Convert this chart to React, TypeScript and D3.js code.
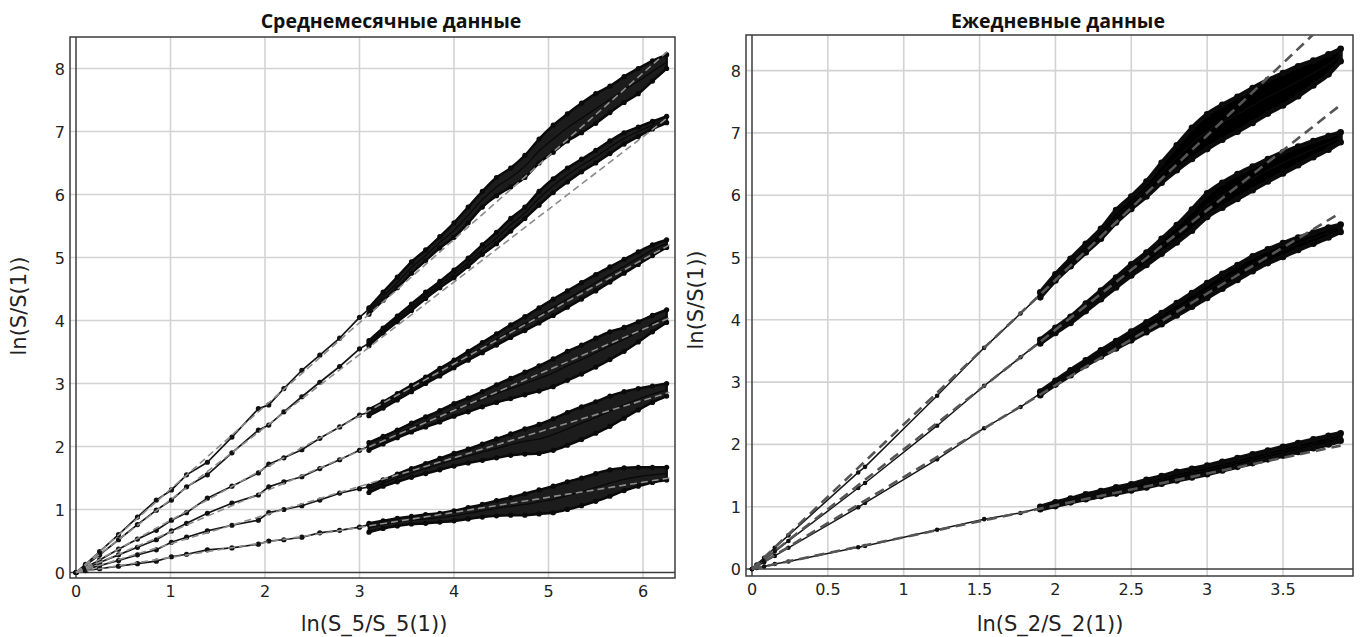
import React from "react";
import * as d3 from "d3";

// ---------- axis ticks ----------
const monthlyTicksX = [0, 1, 2, 3, 4, 5, 6];
const monthlyTicksY = [0, 1, 2, 3, 4, 5, 6, 7, 8];
const dailyTicksX = [0, 0.5, 1, 1.5, 2, 2.5, 3, 3.5];
const dailyTicksY = [0, 1, 2, 3, 4, 5, 6, 7, 8];

// ---------- monthly data (left panel) ----------
// single trajectory from the origin
const monthlyEarlyX = [0, 0.1, 0.25, 0.45, 0.65, 0.85, 1.01, 1.17, 1.39, 1.65, 1.93, 2.04, 2.2, 2.39, 2.58, 2.79, 3.0, 3.1];
const monthlyEarly1 = [0, 0.13, 0.33, 0.6, 0.88, 1.15, 1.31, 1.55, 1.75, 2.15, 2.6, 2.66, 2.92, 3.21, 3.45, 3.72, 4.05, 4.18];
const monthlyEarly2 = [0, 0.11, 0.28, 0.52, 0.76, 0.99, 1.15, 1.36, 1.55, 1.9, 2.26, 2.34, 2.55, 2.79, 3.02, 3.27, 3.55, 3.64];
const monthlyEarly3 = [0, 0.08, 0.2, 0.37, 0.53, 0.67, 0.83, 0.95, 1.18, 1.37, 1.58, 1.72, 1.82, 1.95, 2.13, 2.31, 2.5, 2.54];
const monthlyEarly4 = [0, 0.06, 0.16, 0.28, 0.4, 0.52, 0.66, 0.78, 0.94, 1.1, 1.23, 1.36, 1.44, 1.52, 1.65, 1.79, 1.94, 2.0];
const monthlyEarly5 = [0, 0.05, 0.11, 0.19, 0.28, 0.36, 0.48, 0.56, 0.66, 0.75, 0.83, 0.95, 1.0, 1.06, 1.15, 1.26, 1.33, 1.36];
const monthlyEarly6 = [0, 0.03, 0.06, 0.1, 0.14, 0.18, 0.25, 0.29, 0.36, 0.39, 0.45, 0.5, 0.52, 0.56, 0.63, 0.67, 0.72, 0.76];

// dense overlapping trajectories: upper edge, middle strand, lower edge
const monthlyLateX = [3.1, 3.25, 3.4, 3.55, 3.7, 3.85, 4.0, 4.15, 4.3, 4.45, 4.6, 4.75, 4.9, 5.05, 5.2, 5.35, 5.5, 5.65, 5.8, 5.95, 6.1, 6.25];
const monthlyUpper1 = [4.2, 4.45, 4.69, 4.93, 5.12, 5.33, 5.55, 5.8, 6.05, 6.27, 6.42, 6.62, 6.88, 7.1, 7.28, 7.45, 7.6, 7.72, 7.87, 8.0, 8.12, 8.22];
const monthlyMid1 = [4.15, 4.38, 4.6, 4.84, 5.03, 5.24, 5.43, 5.67, 5.92, 6.12, 6.27, 6.45, 6.69, 6.88, 7.06, 7.21, 7.36, 7.51, 7.66, 7.8, 7.95, 8.1];
const monthlyLower1 = [4.1, 4.32, 4.52, 4.75, 4.95, 5.15, 5.32, 5.55, 5.8, 5.98, 6.12, 6.27, 6.5, 6.67, 6.85, 6.98, 7.13, 7.3, 7.46, 7.6, 7.8, 8.0];
const monthlyUpper2 = [3.68, 3.88, 4.07, 4.26, 4.45, 4.62, 4.8, 4.99, 5.2, 5.4, 5.62, 5.8, 6.05, 6.25, 6.42, 6.56, 6.7, 6.85, 6.98, 7.07, 7.16, 7.24];
const monthlyMid2 = [3.64, 3.84, 4.02, 4.21, 4.4, 4.57, 4.74, 4.92, 5.12, 5.31, 5.52, 5.71, 5.94, 6.14, 6.31, 6.46, 6.6, 6.75, 6.89, 7.0, 7.1, 7.19];
const monthlyLower2 = [3.6, 3.8, 3.98, 4.16, 4.35, 4.52, 4.68, 4.86, 5.05, 5.22, 5.42, 5.62, 5.83, 6.03, 6.2, 6.36, 6.5, 6.65, 6.8, 6.92, 7.04, 7.14];
const monthlyUpper3 = [2.59, 2.71, 2.84, 2.97, 3.1, 3.24, 3.37, 3.51, 3.65, 3.79, 3.93, 4.06, 4.2, 4.34, 4.47, 4.6, 4.73, 4.85, 4.97, 5.09, 5.2, 5.28];
const monthlyMid3 = [2.54, 2.66, 2.79, 2.92, 3.05, 3.18, 3.31, 3.44, 3.57, 3.7, 3.83, 3.95, 4.08, 4.21, 4.34, 4.47, 4.6, 4.73, 4.86, 4.99, 5.12, 5.22];
const monthlyLower3 = [2.49, 2.61, 2.74, 2.87, 3.0, 3.12, 3.25, 3.37, 3.49, 3.61, 3.73, 3.84, 3.96, 4.08, 4.21, 4.34, 4.47, 4.61, 4.75, 4.89, 5.03, 5.16];
const monthlyUpper4 = [2.06, 2.16, 2.26, 2.37, 2.47, 2.57, 2.68, 2.77, 2.87, 2.98, 3.08, 3.18, 3.28, 3.39, 3.51, 3.61, 3.72, 3.82, 3.89, 3.98, 4.08, 4.17];
const monthlyMid4 = [2.0, 2.1, 2.2, 2.3, 2.39, 2.48, 2.58, 2.66, 2.75, 2.84, 2.92, 3.0, 3.08, 3.17, 3.28, 3.38, 3.49, 3.6, 3.7, 3.82, 3.95, 4.07];
const monthlyLower4 = [1.94, 2.04, 2.14, 2.23, 2.31, 2.39, 2.48, 2.55, 2.63, 2.7, 2.76, 2.82, 2.88, 2.95, 3.05, 3.15, 3.26, 3.38, 3.51, 3.66, 3.82, 3.97];
const monthlyUpper5 = [1.37, 1.47, 1.56, 1.65, 1.73, 1.81, 1.89, 1.96, 2.04, 2.12, 2.2, 2.28, 2.35, 2.44, 2.54, 2.63, 2.71, 2.8, 2.87, 2.92, 2.96, 3.0];
const monthlyMid5 = [1.32, 1.42, 1.5, 1.58, 1.65, 1.72, 1.79, 1.85, 1.91, 1.97, 2.03, 2.08, 2.12, 2.19, 2.28, 2.37, 2.46, 2.56, 2.66, 2.75, 2.83, 2.9];
const monthlyLower5 = [1.27, 1.37, 1.44, 1.51, 1.57, 1.63, 1.69, 1.74, 1.78, 1.82, 1.86, 1.88, 1.89, 1.94, 2.02, 2.11, 2.21, 2.32, 2.45, 2.58, 2.7, 2.8];
const monthlyUpper6 = [0.78, 0.82, 0.86, 0.89, 0.92, 0.94, 0.98, 1.03, 1.08, 1.14, 1.19, 1.25, 1.31, 1.37, 1.44, 1.5, 1.57, 1.63, 1.66, 1.67, 1.67, 1.67];
const monthlyMid6 = [0.71, 0.76, 0.8, 0.83, 0.85, 0.87, 0.9, 0.94, 0.98, 1.02, 1.05, 1.08, 1.12, 1.16, 1.22, 1.28, 1.35, 1.42, 1.48, 1.52, 1.55, 1.57];
const monthlyLower6 = [0.64, 0.7, 0.74, 0.77, 0.78, 0.8, 0.82, 0.85, 0.88, 0.9, 0.91, 0.91, 0.93, 0.95, 1.0, 1.06, 1.13, 1.21, 1.3, 1.37, 1.43, 1.47];

// regression lines through the origin: value reached at x = monthlyFitX
const monthlyFitX = 6.28;
const monthlyFitEnd = [8.3, 7.24, 5.2, 4.04, 2.86, 1.5];

// ---------- daily data (right panel) ----------
const dailyEarlyX = [0, 0.03, 0.08, 0.15, 0.24, 0.7, 0.745, 1.22, 1.53, 1.77, 1.9];
const dailyEarly1 = [0, 0.07, 0.18, 0.34, 0.54, 1.55, 1.64, 2.78, 3.55, 4.1, 4.4];
const dailyEarly2 = [0, 0.06, 0.15, 0.28, 0.45, 1.3, 1.38, 2.3, 2.94, 3.4, 3.65];
const dailyEarly3 = [0, 0.04, 0.11, 0.21, 0.34, 0.99, 1.06, 1.76, 2.26, 2.6, 2.82];
const dailyEarly4 = [0, 0.015, 0.04, 0.08, 0.12, 0.35, 0.37, 0.63, 0.8, 0.9, 0.98];

const dailyLateX = [1.9, 2.0, 2.1, 2.2, 2.3, 2.4, 2.5, 2.6, 2.7, 2.8, 2.9, 3.0, 3.1, 3.2, 3.3, 3.4, 3.5, 3.6, 3.7, 3.8, 3.88];
const dailyUpper1 = [4.44, 4.73, 4.98, 5.22, 5.46, 5.76, 5.98, 6.22, 6.52, 6.8, 7.08, 7.3, 7.45, 7.58, 7.72, 7.85, 7.96, 8.07, 8.16, 8.26, 8.35];
const dailyMid1 = [4.4, 4.68, 4.92, 5.15, 5.38, 5.66, 5.88, 6.1, 6.36, 6.6, 6.83, 7.02, 7.17, 7.3, 7.44, 7.58, 7.7, 7.83, 7.96, 8.1, 8.25];
const dailyLower1 = [4.36, 4.63, 4.86, 5.08, 5.3, 5.56, 5.78, 5.98, 6.2, 6.4, 6.58, 6.74, 6.89, 7.02, 7.16, 7.31, 7.44, 7.59, 7.76, 7.94, 8.15];
const dailyUpper2 = [3.68, 3.87, 4.05, 4.26, 4.47, 4.68, 4.89, 5.08, 5.3, 5.52, 5.77, 6.03, 6.2, 6.34, 6.46, 6.58, 6.69, 6.78, 6.87, 6.95, 7.01];
const dailyMid2 = [3.65, 3.83, 4.0, 4.2, 4.4, 4.6, 4.8, 4.98, 5.18, 5.38, 5.6, 5.84, 6.0, 6.14, 6.27, 6.4, 6.52, 6.63, 6.74, 6.84, 6.93];
const dailyLower2 = [3.62, 3.79, 3.95, 4.14, 4.33, 4.52, 4.71, 4.88, 5.06, 5.24, 5.43, 5.65, 5.8, 5.94, 6.08, 6.22, 6.35, 6.48, 6.61, 6.73, 6.85];
const dailyUpper3 = [2.85, 3.02, 3.19, 3.35, 3.51, 3.66, 3.81, 3.96, 4.11, 4.27, 4.43, 4.59, 4.74, 4.88, 5.02, 5.13, 5.23, 5.32, 5.4, 5.48, 5.53];
const dailyMid3 = [2.82, 2.99, 3.15, 3.31, 3.46, 3.6, 3.74, 3.88, 4.02, 4.17, 4.32, 4.47, 4.62, 4.76, 4.9, 5.02, 5.12, 5.22, 5.31, 5.4, 5.47];
const dailyLower3 = [2.79, 2.96, 3.11, 3.27, 3.41, 3.54, 3.67, 3.8, 3.93, 4.07, 4.21, 4.35, 4.5, 4.64, 4.78, 4.91, 5.01, 5.12, 5.22, 5.32, 5.41];
const dailyUpper4 = [1.0, 1.07, 1.13, 1.2, 1.25, 1.31, 1.36, 1.43, 1.49, 1.56, 1.61, 1.66, 1.72, 1.78, 1.84, 1.9, 1.96, 2.02, 2.08, 2.14, 2.18];
const dailyMid4 = [0.98, 1.04, 1.1, 1.16, 1.21, 1.26, 1.31, 1.37, 1.43, 1.49, 1.54, 1.59, 1.65, 1.71, 1.77, 1.83, 1.89, 1.95, 2.01, 2.07, 2.12];
const dailyLower4 = [0.96, 1.01, 1.07, 1.12, 1.17, 1.21, 1.26, 1.31, 1.37, 1.42, 1.47, 1.52, 1.58, 1.64, 1.7, 1.76, 1.82, 1.88, 1.94, 2.0, 2.06];

const dailyFitX = 3.88;
const dailyFitEnd = [9.0, 7.45, 5.72, 1.98];

const FONT = "'DejaVu Sans', Verdana, sans-serif";

type Bundle = {
  early: number[];
  upper: number[];
  mid: number[];
  lower: number[];
};

type PanelProps = {
  id: string;
  title: string;
  titleX: number;
  xLabel: string;
  xLabelX: number;
  yLabelX: number;
  yLabelY: number;
  frame: { x1: number; x2: number; y1: number; y2: number };
  xScale: d3.ScaleLinear<number, number>;
  yScale: d3.ScaleLinear<number, number>;
  xTicks: number[];
  yTicks: number[];
  earlyX: number[];
  lateX: number[];
  bundles: Bundle[];
  fitX: number;
  fitEnd: number[];
  bandFill: string;
  bandStroke: number;
  earlyWidth: number;
  markerR: number;
  bandR: number;
  fitStroke: string;
  fitWidth: number;
  fitDash: string;
};

function Panel(p: PanelProps) {
  const { frame, xScale: xs, yScale: ys } = p;

  const line = d3
    .line<[number, number]>()
    .x((d) => xs(d[0]))
    .y((d) => ys(d[1]));

  const smooth = d3
    .line<[number, number]>()
    .x((d) => xs(d[0]))
    .y((d) => ys(d[1]))
    .curve(d3.curveCatmullRom.alpha(0.5));

  const area = d3
    .area<number>()
    .x((_, i) => xs(p.lateX[i]))
    .curve(d3.curveCatmullRom.alpha(0.5));

  return (
    <g>
      <defs>
        <clipPath id={`clip-${p.id}`}>
          <rect x={frame.x1} y={frame.y1} width={frame.x2 - frame.x1} height={frame.y2 - frame.y1} />
        </clipPath>
      </defs>
      {/* grid */}
      {p.xTicks.filter((t) => t !== 0).map((t) => (
        <line key={`gx${t}`} x1={xs(t)} x2={xs(t)} y1={frame.y1} y2={frame.y2} stroke="#d3d3d3" strokeWidth={1.6} />
      ))}
      {p.yTicks.filter((t) => t !== 0).map((t) => (
        <line key={`gy${t}`} x1={frame.x1} x2={frame.x2} y1={ys(t)} y2={ys(t)} stroke="#d3d3d3" strokeWidth={1.6} />
      ))}
      {/* frame and zero axes */}
      <rect x={frame.x1} y={frame.y1} width={frame.x2 - frame.x1} height={frame.y2 - frame.y1} fill="none" stroke="#3c3c3c" strokeWidth={1.5} />
      <line x1={xs(0)} x2={xs(0)} y1={frame.y1} y2={frame.y2} stroke="#3c3c3c" strokeWidth={1.5} />
      <line x1={frame.x1} x2={frame.x2} y1={ys(0)} y2={ys(0)} stroke="#3c3c3c" strokeWidth={1.5} />

      {/* data */}
      <g clipPath={`url(#clip-${p.id})`}>
        {p.bundles.map((b, bi) => {
          const earlyPts = p.earlyX.map((x, i) => [x, b.early[i]] as [number, number]);
          const up = p.lateX.map((x, i) => [x, b.upper[i]] as [number, number]);
          const md = p.lateX.map((x, i) => [x, b.mid[i]] as [number, number]);
          const lo = p.lateX.map((x, i) => [x, b.lower[i]] as [number, number]);
          const bandPath = area.y0((_, i) => ys(b.lower[i])).y1((_, i) => ys(b.upper[i]))(b.upper) || "";
          return (
            <g key={`b${bi}`}>
              <path d={line(earlyPts) || ""} fill="none" stroke="#161616" strokeWidth={p.earlyWidth} />
              {earlyPts.map((d, i) => (
                <circle key={`e${i}`} cx={xs(d[0])} cy={ys(d[1])} r={p.markerR} fill="#111" />
              ))}
              <path d={bandPath} fill={p.bandFill} stroke="#0e0e0e" strokeWidth={p.bandStroke} strokeLinejoin="round" />
              {[up, md, lo].map((s, si) => (
                <path key={`s${si}`} d={smooth(s) || ""} fill="none" stroke="#0a0a0a" strokeWidth={1.3} />
              ))}
              {[up, lo].map((s, si) =>
                s.map((d, i) => (
                  <circle key={`m${si}-${i}`} cx={xs(d[0])} cy={ys(d[1])} r={p.bandR} fill="#0a0a0a" />
                ))
              )}
            </g>
          );
        })}
        {p.fitEnd.map((v, i) => (
          <path
            key={`f${i}`}
            d={line([[0, 0], [p.fitX, v]]) || ""}
            fill="none"
            stroke={p.fitStroke}
            strokeWidth={p.fitWidth}
            strokeDasharray={p.fitDash}
          />
        ))}
      </g>

      {/* tick labels */}
      {p.xTicks.map((t) => (
        <text key={`tx${t}`} x={xs(t)} y={frame.y2 + 19} textAnchor="middle" fontFamily={FONT} fontSize={16} fill="#222">
          {String(t)}
        </text>
      ))}
      {p.yTicks.map((t) => (
        <text key={`ty${t}`} x={frame.x1 - 5} y={ys(t) + 6} textAnchor="end" fontFamily={FONT} fontSize={16} fill="#222">
          {String(t)}
        </text>
      ))}

      {/* titles */}
      <text x={p.titleX} y={28} textAnchor="middle" fontFamily="'Open Sans', 'DejaVu Sans', sans-serif" fontWeight={700} fontSize={19.5} fill="#111">
        {p.title}
      </text>
      <text x={p.xLabelX} y={631} textAnchor="middle" fontFamily={FONT} fontSize={21} fill="#222">
        {p.xLabel}
      </text>
      <text
        transform={`translate(${p.yLabelX},${p.yLabelY}) rotate(-90)`}
        textAnchor="middle"
        fontFamily={FONT}
        fontSize={21}
        fill="#222"
      >
        ln(S/S(1))
      </text>
    </g>
  );
}

export default function App() {
  const leftX = d3.scaleLinear().domain([0, 6]).range([76, 643]);
  const leftY = d3.scaleLinear().domain([0, 8]).range([572.5, 68.5]);
  const rightX = d3.scaleLinear().domain([0, 3.5]).range([752, 1283]);
  const rightY = d3.scaleLinear().domain([0, 8]).range([569, 70.6]);

  const monthlyBundles: Bundle[] = [
    { early: monthlyEarly1, upper: monthlyUpper1, mid: monthlyMid1, lower: monthlyLower1 },
    { early: monthlyEarly2, upper: monthlyUpper2, mid: monthlyMid2, lower: monthlyLower2 },
    { early: monthlyEarly3, upper: monthlyUpper3, mid: monthlyMid3, lower: monthlyLower3 },
    { early: monthlyEarly4, upper: monthlyUpper4, mid: monthlyMid4, lower: monthlyLower4 },
    { early: monthlyEarly5, upper: monthlyUpper5, mid: monthlyMid5, lower: monthlyLower5 },
    { early: monthlyEarly6, upper: monthlyUpper6, mid: monthlyMid6, lower: monthlyLower6 },
  ];
  const dailyBundles: Bundle[] = [
    { early: dailyEarly1, upper: dailyUpper1, mid: dailyMid1, lower: dailyLower1 },
    { early: dailyEarly2, upper: dailyUpper2, mid: dailyMid2, lower: dailyLower2 },
    { early: dailyEarly3, upper: dailyUpper3, mid: dailyMid3, lower: dailyLower3 },
    { early: dailyEarly4, upper: dailyUpper4, mid: dailyMid4, lower: dailyLower4 },
  ];

  return (
    <svg
      width={1362}
      height={637}
      viewBox="0 0 1362 637"
      style={{ position: "absolute", left: 0, top: 0, display: "block", background: "#fff" }}
    >
      <rect x={0} y={0} width={1362} height={637} fill="#fff" />
      <Panel
        id="monthly"
        title="Среднемесячные данные"
        titleX={391}
        xLabel="ln(S_5/S_5(1))"
        xLabelX={374}
        yLabelX={26}
        yLabelY={306}
        frame={{ x1: 70, x2: 675, y1: 37, y2: 578 }}
        xScale={leftX}
        yScale={leftY}
        xTicks={monthlyTicksX}
        yTicks={monthlyTicksY}
        earlyX={monthlyEarlyX}
        lateX={monthlyLateX}
        bundles={monthlyBundles}
        fitX={monthlyFitX}
        fitEnd={monthlyFitEnd}
        bandFill="#1c1c1c"
        bandStroke={2.6}
        earlyWidth={1.7}
        markerR={2.6}
        bandR={2.6}
        fitStroke="#8c8c8c"
        fitWidth={1.6}
        fitDash="7,4"
      />
      <Panel
        id="daily"
        title="Ежедневные данные"
        titleX={1058}
        xLabel="ln(S_2/S_2(1))"
        xLabelX={1050}
        yLabelX={703}
        yLabelY={300}
        frame={{ x1: 746, x2: 1353, y1: 35, y2: 576 }}
        xScale={rightX}
        yScale={rightY}
        xTicks={dailyTicksX}
        yTicks={dailyTicksY}
        earlyX={dailyEarlyX}
        lateX={dailyLateX}
        bundles={dailyBundles}
        fitX={dailyFitX}
        fitEnd={dailyFitEnd}
        bandFill="#000"
        bandStroke={4.2}
        earlyWidth={1.5}
        markerR={2.3}
        bandR={3.3}
        fitStroke="#555"
        fitWidth={2.6}
        fitDash="10,6"
      />
    </svg>
  );
}
